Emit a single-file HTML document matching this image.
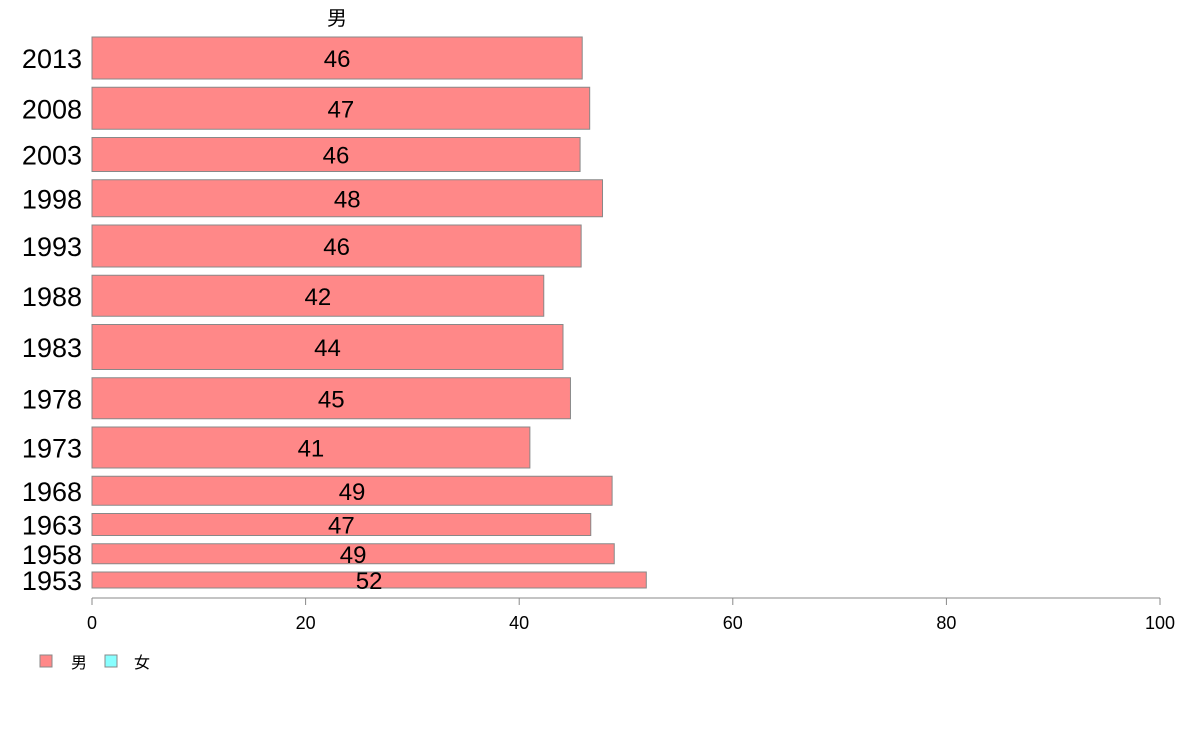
<!DOCTYPE html>
<html><head><meta charset="utf-8">
<style>
html,body{margin:0;padding:0;background:#fff;}
svg{display:block;font-family:"Liberation Sans","Noto Sans CJK JP",sans-serif;}
</style></head>
<body>
<svg id="chart" width="1188" height="736" viewBox="0 0 1188 736" xmlns="http://www.w3.org/2000/svg">
<text x="337" y="25" font-size="20" text-anchor="middle">男</text>
<g id="bars"></g>
<g id="xaxis"></g>
<g>
  <g>
    <rect x="40" y="655" width="12" height="12" fill="#ff8888" stroke="#888" stroke-width="1"/>
    <text x="71" y="668" font-size="16">男</text>
  </g>
  <g>
    <rect x="105" y="655" width="12" height="12" fill="#88ffff" stroke="#888" stroke-width="1"/>
    <text x="134" y="668" font-size="16">女</text>
  </g>
</g>
</svg>
<script>
const categories = ["2013","2008","2003","1998","1993","1988","1983","1978","1973","1968","1963","1958","1953"];
const values = [45.9, 46.6, 45.7, 47.8, 45.8, 42.3, 44.1, 44.8, 41.0, 48.7, 46.7, 48.9, 51.9];
const labels = ["46","47","46","48","46","42","44","45","41","49","47","49","52"];
const weights = [42, 42, 34, 37, 42, 41, 45, 41, 41, 29, 22, 20, 16];
const xTicks = [0, 20, 40, 60, 80, 100];

const NS = "http://www.w3.org/2000/svg";
const x0 = 92, x1 = 1160, barTop = 37, barBottom = 588, axisY = 598;
function xScale(v){ return x0 + (v/100)*(x1-x0); }
const totalW = weights.reduce((a,b)=>a+b,0);
const gap = ((barBottom-barTop) - totalW) / (categories.length-1);

const gb = document.getElementById('bars');
let yPos = barTop;
categories.forEach((c,i)=>{
  const h = weights[i];
  const g = document.createElementNS(NS,'g');
  
  
  const r = document.createElementNS(NS,'rect');
  
  
  r.setAttribute('x', x0); r.setAttribute('y', yPos);
  r.setAttribute('width', xScale(values[i]) - x0); r.setAttribute('height', h);
  r.setAttribute('fill', '#ff8888'); r.setAttribute('stroke', '#888'); r.setAttribute('stroke-width', '1');
  g.appendChild(r);
  const cy = yPos + h/2;
  const t = document.createElementNS(NS,'text');
  
  
  t.setAttribute('x', (x0 + xScale(values[i]))/2); t.setAttribute('y', cy + 9);
  t.setAttribute('font-size', '24'); t.setAttribute('text-anchor', 'middle');
  t.textContent = labels[i];
  g.appendChild(t);
  const yl = document.createElementNS(NS,'text');
  
  
  yl.setAttribute('x', 82); yl.setAttribute('y', cy + 10);
  yl.setAttribute('font-size', '27'); yl.setAttribute('text-anchor', 'end');
  yl.textContent = c;
  g.appendChild(yl);
  gb.appendChild(g);
  yPos += h + gap;
});

const ga = document.getElementById('xaxis');
const axLine = document.createElementNS(NS,'line');


axLine.setAttribute('x1', x0); axLine.setAttribute('x2', x1);
axLine.setAttribute('y1', axisY); axLine.setAttribute('y2', axisY);
axLine.setAttribute('stroke', '#888'); axLine.setAttribute('stroke-width', '1');
ga.appendChild(axLine);
xTicks.forEach(v=>{
  const tk = document.createElementNS(NS,'line');
  
  
  tk.setAttribute('x1', xScale(v)); tk.setAttribute('x2', xScale(v));
  tk.setAttribute('y1', axisY); tk.setAttribute('y2', axisY + 7);
  tk.setAttribute('stroke', '#888'); tk.setAttribute('stroke-width', '1');
  ga.appendChild(tk);
  const tl = document.createElementNS(NS,'text');
  
  
  tl.setAttribute('x', xScale(v)); tl.setAttribute('y', 629);
  tl.setAttribute('font-size', '18'); tl.setAttribute('text-anchor', 'middle');
  tl.textContent = v;
  ga.appendChild(tl);
});
</script>
</body></html>
